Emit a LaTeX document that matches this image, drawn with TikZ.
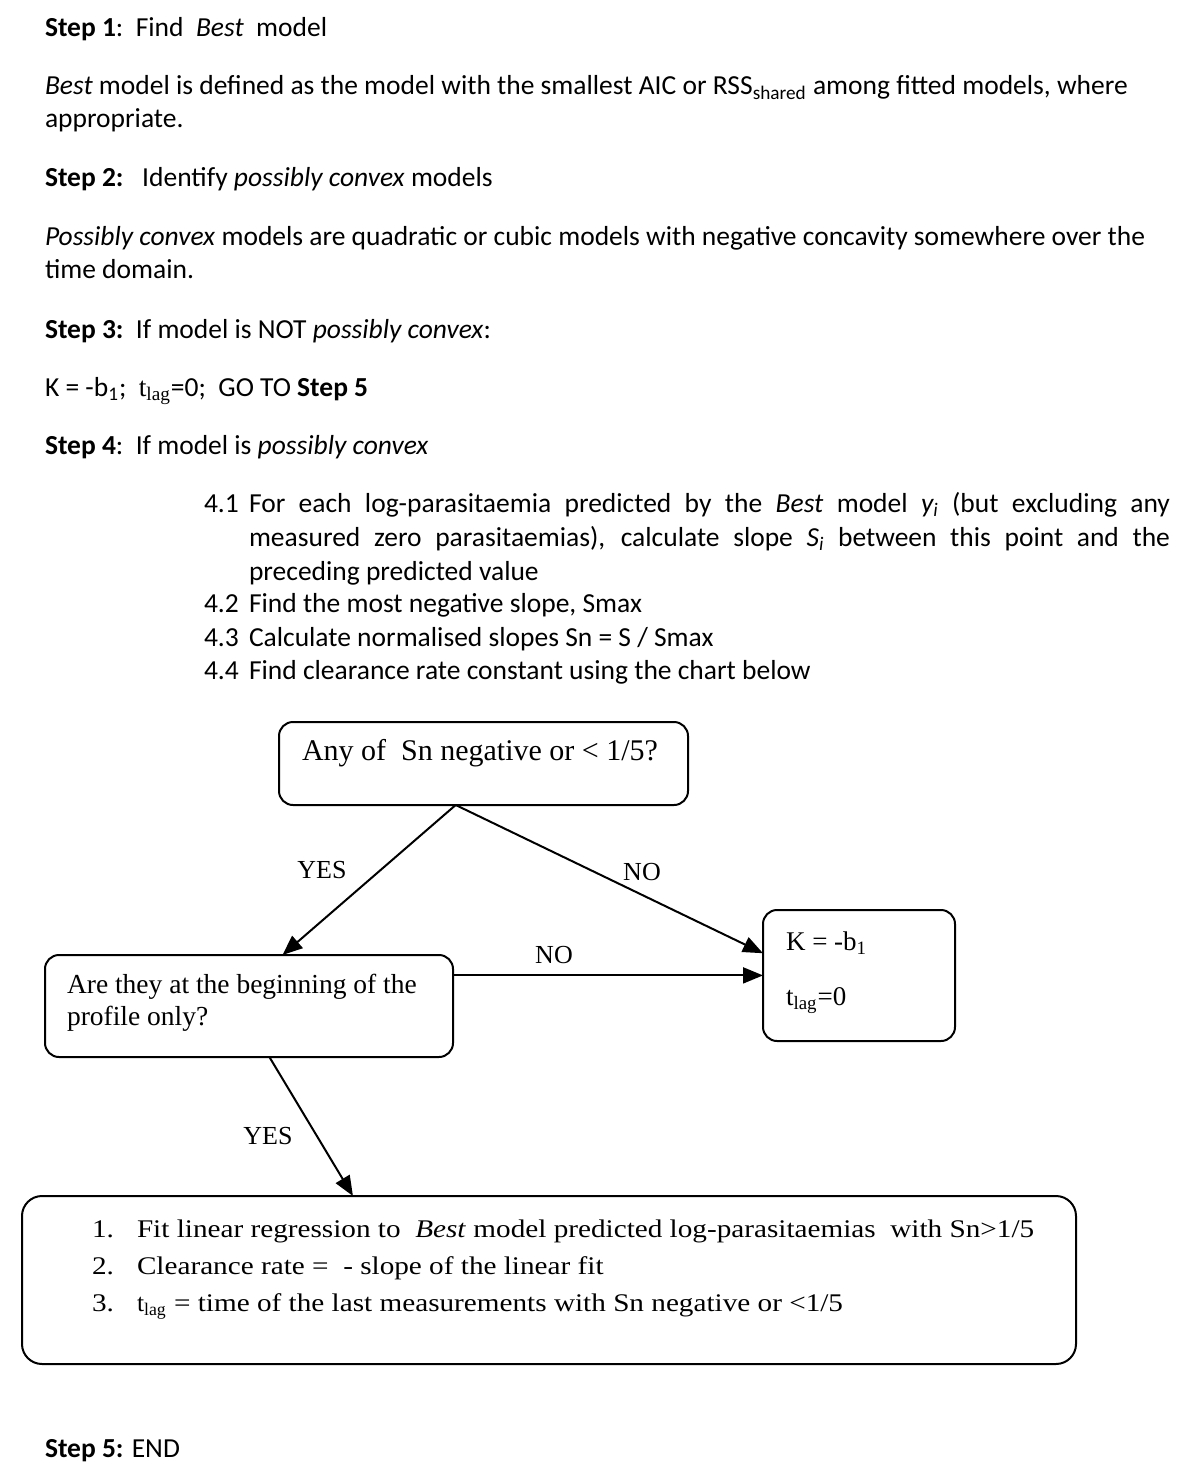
\documentclass[tikz,border=0pt]{standalone}
\usepackage{fontspec}
\setmainfont{Carlito}
\newfontfamily\tnr{Liberation Serif}
\newfontfamily\wideser[FakeStretch=1.15]{Liberation Serif}
\usetikzlibrary{arrows.meta,calc}
\tikzset{
  txt/.style={anchor=base west, inner sep=0pt, outer sep=0pt, font=\fontsize{13.75}{16.5}\selectfont},
  sertxt/.style={anchor=base west, inner sep=0pt, outer sep=0pt, font=\tnr\fontsize{13.75}{16}\selectfont},
  fittxt/.style={anchor=base west, inner sep=0pt, outer sep=0pt, font=\wideser\fontsize{12.7}{16}\selectfont},
  lbl/.style={inner sep=0pt, font=\tnr\fontsize{13}{15}\selectfont},
  boxshape/.style={draw, line width=1pt, rounded corners=7pt, inner sep=0pt, outer sep=0pt},
  flow/.style={line width=1pt, -{Triangle[length=10pt,width=8pt]}}
}
\begin{document}
\begin{tikzpicture}[x=0.5pt,y=-0.5pt]
\useasboundingbox (0,0) rectangle (1200,1481);
% top text
\node[txt] (s1) at (45,37) {\textbf{Step 1}:\ \ Find \ \emph{Best} \ model};
\node[txt] (s1a) at (45,95) {\emph{Best} model is defined as the model with the smallest AIC or RSS\textsubscript{shared} among fitted models, where};
\node[txt] (s1b) at (45,128) {appropriate.};
\node[txt] (s2) at (45,187) {\textbf{Step 2:}\ \ \ Identify \emph{possibly convex} models};
\node[txt] (s2a) at (45,246) {\emph{Possibly convex} models are quadratic or cubic models with negative concavity somewhere over the};
\node[txt] (s2b) at (45,279) {time domain.};
\node[txt] (s3) at (45,338) {\textbf{Step 3:}\ \ If model is NOT \emph{possibly convex}:};
\node[txt] (s3a) at (45,396) {K = -b\textsubscript{1};\ \ {\tnr t\textsubscript{lag}}=0;\ \ GO TO \textbf{Step 5}};
\node[txt] (s4) at (45,454) {\textbf{Step 4}:\ \ If model is \emph{possibly convex}};
% sub-steps
\node[txt] (n41) at (204,512) {4.1};
\node[txt] (p41) at (249,512) {\parbox[t]{460.5pt}{\fontsize{13.75}{17}\selectfont\hyphenpenalty=10000\exhyphenpenalty=10000 For each log-parasitaemia predicted by the \emph{Best} model \emph{y\textsubscript{i}} (but excluding any measured zero parasitaemias), calculate slope \emph{S\textsubscript{i}} between this point and the preceding predicted value}};
\node[txt] (n42) at (204,612) {4.2};
\node[txt] (p42) at (249,612) {Find the most negative slope, Smax};
\node[txt] (n43) at (204,646) {4.3};
\node[txt] (p43) at (249,646) {Calculate normalised slopes Sn = S / Smax};
\node[txt] (n44) at (204,679) {4.4};
\node[txt] (p44) at (249,679) {Find clearance rate constant using the chart below};
% boxes
\node[boxshape, minimum width=204.5pt, minimum height=41.5pt] (q1) at (483.5,763.5) {};
\node[boxshape, minimum width=204pt, minimum height=51pt] (q2) at (249,1006) {};
\node[boxshape, minimum width=96pt, minimum height=65.5pt] (kb) at (859,975.5) {};
\node[boxshape, rounded corners=10pt, minimum width=527pt, minimum height=84pt] (fit) at (549,1280) {};
% box texts
\node[sertxt, font=\tnr\fontsize{15}{18}\selectfont] (q1t) at (302,760) {Any of \ Sn negative or {<} 1/5?};
\node[sertxt] (q2t) at (67,993) {\parbox[t]{210pt}{\fontsize{13.75}{16}\selectfont Are they at the beginning of the\\ profile only?}};
\node[sertxt, font=\tnr\fontsize{13.5}{16}\selectfont] (kt1) at (786,950) {K = -b\textsubscript{1}};
\node[sertxt, font=\tnr\fontsize{13.5}{16}\selectfont] (kt2) at (786,1005) {t\textsubscript{lag}=0};
\node[fittxt] (f1n) at (92,1237) {1.};
\node[fittxt] (f1) at (137,1237) {Fit linear regression to \ \emph{Best} model predicted log-parasitaemias \ with Sn{>}1/5};
\node[fittxt] (f2n) at (92,1274) {2.};
\node[fittxt] (f2) at (137,1274) {Clearance rate = \ - slope of the linear fit};
\node[fittxt] (f3n) at (92,1311) {3.};
\node[fittxt] (f3) at (137,1311) {{\tnr t\textsubscript{lag}} = time of the last measurements with Sn negative or {<}1/5};
\node[txt] (s5) at (45,1457) {\textbf{Step 5:} END};
% connectors
\coordinate (q1out) at ($(q1.south west)!0.432!(q1.south east)$);
\coordinate (q2in) at ($(q2.north west)!0.582!(q2.north east)$);
\coordinate (kin1) at ($(kb.north west)!0.33!(kb.south west)$);
\coordinate (kin2) at ($(kb.north west)!0.5!(kb.south west)$);
\coordinate (q2out) at ($(q2.north east)!0.2!(q2.south east)$);
\coordinate (q2bot) at ($(q2.south west)!0.55!(q2.south east)$);
\coordinate (fitin) at ($(fit.north west)!0.314!(fit.north east)$);
\draw[flow] (q1out) -- (q2in);
\draw[flow] (q1out) -- (kin1);
\draw[flow] (q2out) -- (kin2 |- q2out);
\draw[flow] (q2bot) -- (fitin);
% labels
\node[lbl] (yes1) at (322,870) {YES};
\node[lbl] (no1) at (642,872) {NO};
\node[lbl] (no2) at (554,955) {NO};
\node[lbl] (yes2) at (268,1136) {YES};
\end{tikzpicture}
\end{document}
